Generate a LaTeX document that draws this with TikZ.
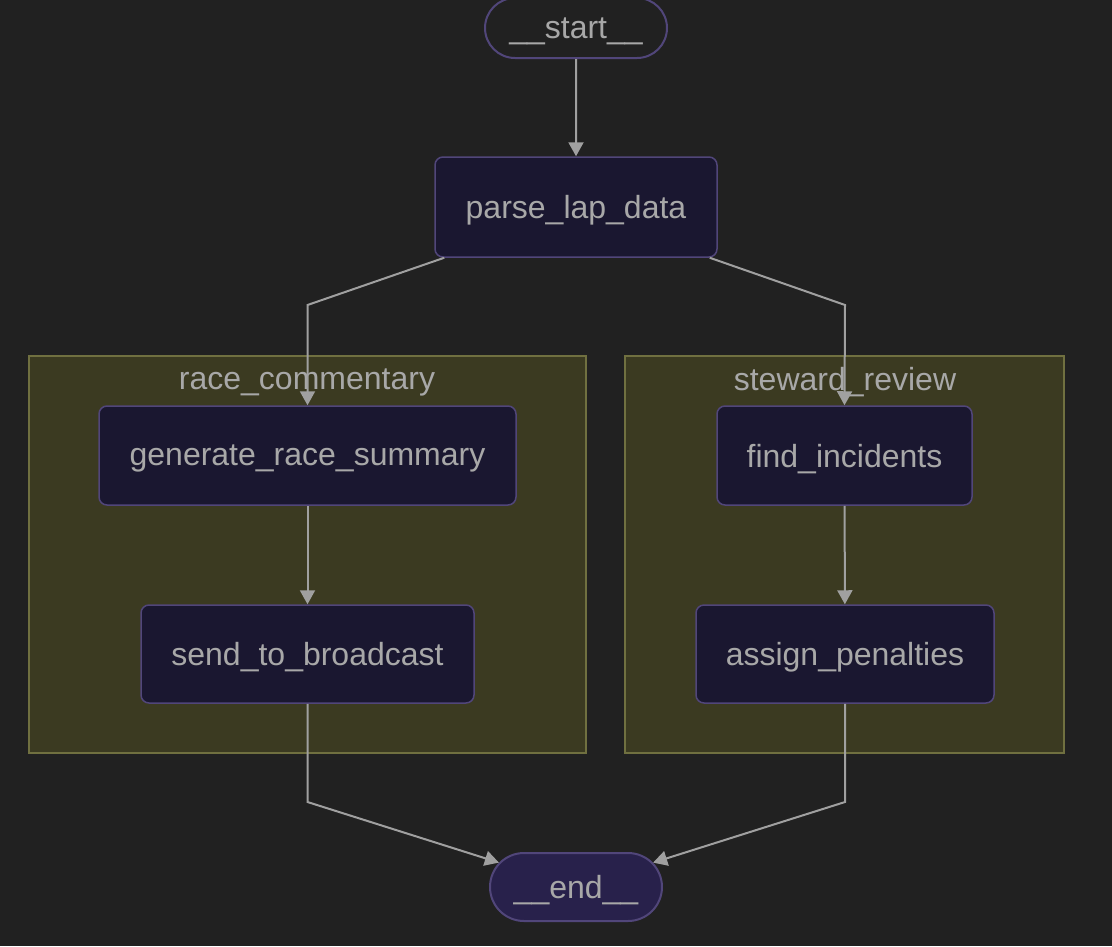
\documentclass[tikz,border=0pt]{standalone}
\usepackage{fontspec}
\setmainfont{Liberation Sans}
\usepackage{tikz}
\usetikzlibrary{positioning,arrows.meta,calc,shapes.misc}
\usepackage{xcolor}
\definecolor{bgcol}{HTML}{212121}
\definecolor{nodefill}{HTML}{1A1730}
\definecolor{endfill}{HTML}{28214B}
\definecolor{nodeline}{HTML}{51467A}
\definecolor{clusterfill}{HTML}{3B3A21}
\definecolor{clusterline}{HTML}{707040}
\definecolor{labelgray}{HTML}{A8A8A8}
\definecolor{edgegray}{HTML}{A0A0A0}

\begin{document}
\begin{tikzpicture}[x=1pt,y=-1pt,
  every node/.style={font=\fontsize{32}{38}\selectfont,text=labelgray,inner sep=0pt,text depth=0pt},
  term/.style={rounded rectangle,draw=nodeline,line width=2pt},
  stepbox/.style={rectangle,rounded corners=8pt,fill=nodefill,draw=nodeline,line width=1.5pt,minimum height=99pt},
  flow/.style={draw=edgegray,line width=2pt,-{Triangle[length=14pt,width=15pt]}}]
\fill[bgcol] (0,0) rectangle (1112,946);
\useasboundingbox (0,0) rectangle (1112,946);
% clusters
\fill[clusterfill] (29,356) rectangle (586,753);
\draw[clusterline,line width=1.5pt] (29,356) rectangle (586,753);
\node (rctitle) at (307,379) {race\_commentary};
\fill[clusterfill] (625,356) rectangle (1064,753);
\draw[clusterline,line width=1.5pt] (625,356) rectangle (1064,753);
\node (srtitle) at (845,379) {steward\_review};
% nodes
\node[term,fill=bgcol,minimum width=182pt,minimum height=60pt] (start) at (576,28) {\_\_start\_\_};
\node[stepbox,minimum width=282pt,minimum height=100pt] (parse) at (576,207) {parse\_lap\_data};
\node[stepbox,minimum width=417pt] (summary) at (307.5,455.5) {generate\_race\_summary};
\node[stepbox,minimum width=333pt,minimum height=98pt] (broadcast) at (307.5,654) {send\_to\_broadcast};
\node[stepbox,minimum width=255pt] (incidents) at (844.5,455.5) {find\_incidents};
\node[stepbox,minimum width=298pt,minimum height=98pt] (penalties) at (845,654) {assign\_penalties};
\node[term,fill=endfill,minimum width=172pt,minimum height=68pt] (end) at (576,887) {\_\_end\_\_};
% edges
\draw[flow] (start) -- (parse);
\draw[flow] ([xshift=10pt]parse.south west) -- (307.5,305) -- (summary.north);
\draw[flow] ([xshift=-8pt]parse.south east) -- (845,305) -- (incidents.north);
\draw[flow] (summary) -- (broadcast);
\draw[flow] (incidents) -- (penalties);
\draw[flow] (broadcast.south) -- (307.5,802) -- (end);
\draw[flow] (penalties.south) -- (845,802) -- (end);
\end{tikzpicture}
\end{document}
